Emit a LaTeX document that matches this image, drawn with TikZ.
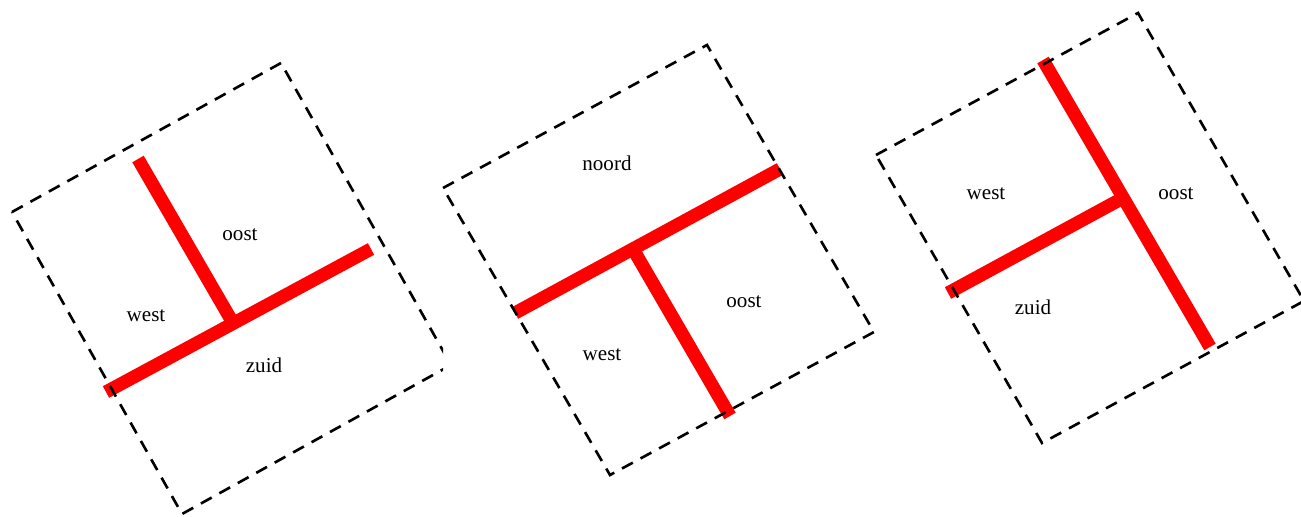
\documentclass[tikz,border=0pt]{standalone}
\usepackage{fontspec}
\setmainfont{Liberation Serif}
\definecolor{streetred}{HTML}{FF0000}
\tikzset{
  frame/.style={draw=black, line width=1.5pt, dash pattern=on 7pt off 5pt},
  street/.style={draw=streetred, line width=7.5pt},
  side/.style={font=\fontsize{12}{14}\selectfont, anchor=base, inner sep=0pt},
}

\begin{document}
\begin{tikzpicture}[x=0.02cm, y=-0.02cm]
  \useasboundingbox (0,0) rectangle (1301,517);
  \clip (0,0) rectangle (1301,517);

  % --- Crossing 1: west / oost / zuid ---
  \begin{scope}
    \clip (0,0) rectangle (443,517);
    \coordinate (a-w) at (12,212);
    \coordinate (a-n) at (281,63);
    \coordinate (a-e) at (451,365);
    \coordinate (a-s) at (182,514);
    \coordinate (a-left)  at (106,392);
    \coordinate (a-right) at (371,249);
    \coordinate (a-top)   at (138,159);
    \coordinate (a-mid)   at (233,323);
    \draw[street] (a-left) -- (a-right);
    \draw[street] (a-top) -- (a-mid);
    \draw[frame] (a-w) -- (a-n) -- (a-e) -- (a-s) -- cycle;
    \node[side] (a-oost) at (240,240) {oost};
    \node[side] (a-west) at (146,321) {west};
    \node[side] (a-zuid) at (264,372) {zuid};
  \end{scope}

  % --- Crossing 2: noord / west / oost ---
  \coordinate (b-w) at (443,188);
  \coordinate (b-n) at (707,45);
  \coordinate (b-e) at (874,332);
  \coordinate (b-s) at (610,475);
  \coordinate (b-left)  at (515,313);
  \coordinate (b-right) at (780,169);
  \coordinate (b-bot)   at (730,416);
  \coordinate (b-mid)   at (633,249);
  \draw[street] (b-left) -- (b-right);
  \draw[street] (b-bot) -- (b-mid);
  \draw[frame] (b-w) -- (b-n) -- (b-e) -- (b-s) -- cycle;
  \node[side] (b-noord) at (607,170) {noord};
  \node[side] (b-oost)  at (744,307) {oost};
  \node[side] (b-west)  at (602,360) {west};

  % --- Crossing 3: west / oost / zuid ---
  \coordinate (c-w) at (876,155);
  \coordinate (c-n) at (1138,13);
  \coordinate (c-e) at (1304,301);
  \coordinate (c-s) at (1042,443);
  \coordinate (c-top)  at (1043,60);
  \coordinate (c-bot)  at (1210,347);
  \coordinate (c-left) at (948,293);
  \coordinate (c-mid)  at (1123,198);
  \draw[street] (c-top) -- (c-bot);
  \draw[street] (c-left) -- (c-mid);
  \draw[frame] (c-w) -- (c-n) -- (c-e) -- (c-s) -- cycle;
  \node[side] (c-west) at (986,199)  {west};
  \node[side] (c-oost) at (1176,199) {oost};
  \node[side] (c-zuid) at (1033,314) {zuid};
\end{tikzpicture}
\end{document}
